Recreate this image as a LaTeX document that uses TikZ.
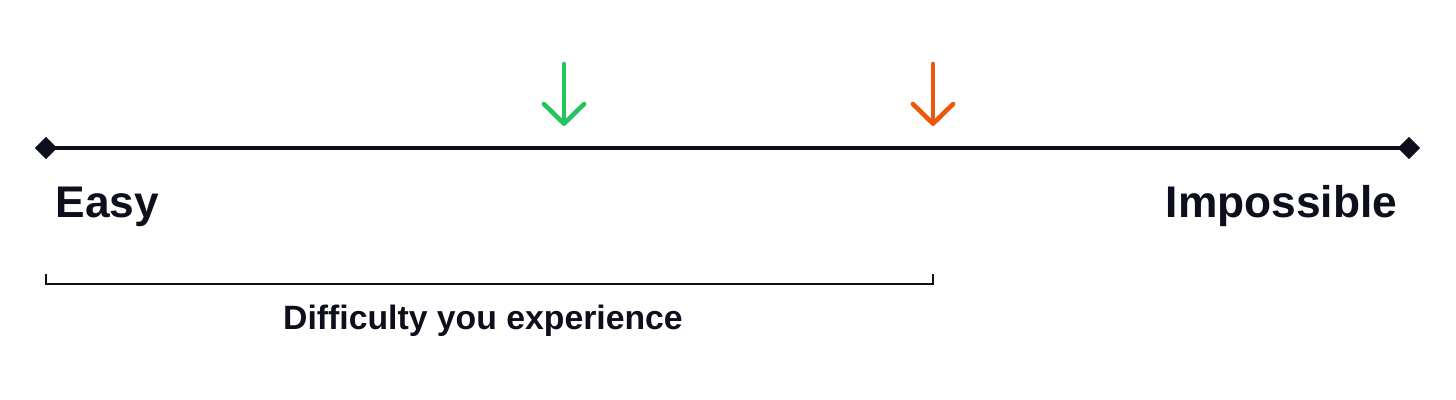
\documentclass[tikz,border=0pt]{standalone}
\usepackage{fontspec}
\setmainfont{Liberation Sans}
\usepackage{xcolor}
\usepackage{tikz}
\usetikzlibrary{arrows.meta}
\usetikzlibrary{shapes.geometric}

\definecolor{inkdark}{HTML}{0D0F1C}
\definecolor{easygreen}{HTML}{22C55E}
\definecolor{hardorange}{HTML}{EA580C}

\tikzset{
  endpoint/.style={diamond, fill=inkdark, inner sep=0pt, minimum size=0.23cm},
  pointer/.style={line width=1.3pt, line cap=round,
    -{Straight Barb[length=5.6pt, width=11.4pt, round]}},
  biglabel/.style={text=inkdark, inner sep=0pt, font=\bfseries\fontsize{12.6pt}{14pt}\selectfont},
  smalllabel/.style={text=inkdark, inner sep=0pt, font=\bfseries\fontsize{9.6pt}{11pt}\selectfont}
}

\begin{document}
\begin{tikzpicture}[x=0.01cm, y=-0.01cm]
    \useasboundingbox (0,0) rectangle (1456,400);
    % Scale with its two ends
    \node[endpoint] (easyend) at (46,148) {};
    \node[endpoint] (hardend) at (1409,148) {};
    \draw[draw = inkdark, line width=1.2pt] (easyend.center) -- (hardend.center);
    \node[biglabel, anchor=base west] (easy) at (55,218) {Easy};
    \node[biglabel, anchor=base east] (impossible) at (1398,218) {Impossible};

    % Markers above the scale
    \coordinate (greentop) at (564,64);
    \coordinate (greentip) at (564,126);
    \coordinate (orangetop) at (933,64);
    \coordinate (orangetip) at (933,126);
    \draw[pointer, draw = easygreen] (greentop) -- (greentip);
    \draw[pointer, draw = hardorange] (orangetop) -- (orangetip);

    % Bracket below
    \coordinate (spanleft) at (46,274);
    \coordinate (spanright) at (933,274);
    \draw[draw = inkdark, line width=0.85pt] (spanleft) -- ++(0,10) -| (spanright);
    \node[smalllabel, anchor=base] (experience) at (483,329) {Difficulty you experience};
\end{tikzpicture}
\end{document}
